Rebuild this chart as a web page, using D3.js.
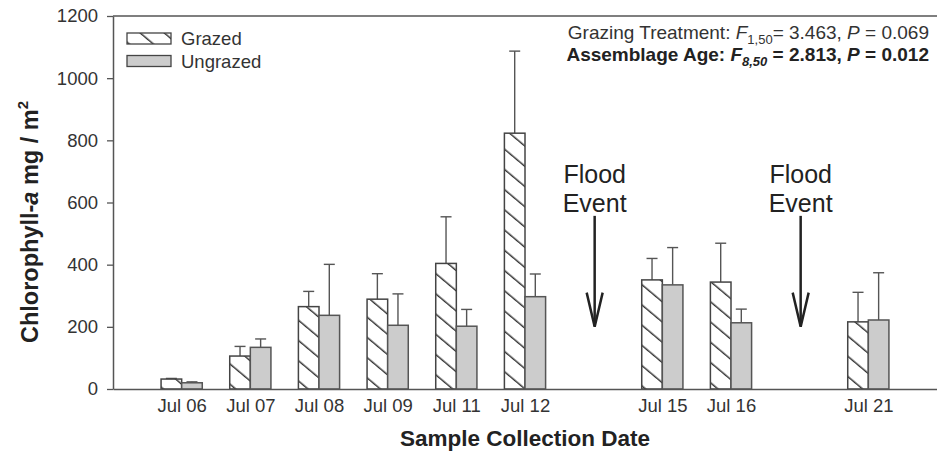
<!DOCTYPE html>
<html lang="en">
  <head>
    <meta charset="UTF-8" />
    <title>Chlorophyll-a by sample date</title>
    <script src="https://d3js.org/d3.v7.min.js"></script>
    <style>
      body { margin: 0; background: #fff; }
      svg { display: block; font-family: 'Liberation Sans', Arial, sans-serif; }
    </style>
  </head>
  <body>
    <svg width="937" height="454"></svg>

    <script>
      // Sample dates and their slot on the x axis (gaps = flood events)
      const dates = ['Jul 06', 'Jul 07', 'Jul 08', 'Jul 09', 'Jul 11', 'Jul 12', 'Jul 15', 'Jul 16', 'Jul 21'];
      const slots = [0, 1, 2, 3, 4, 5, 7, 8, 10];

      // Means and upper error (SE)
      const grazed = [32, 106, 265, 289, 404, 823, 351, 344, 216];
      const grazedErr = [2, 31, 49, 82, 150, 264, 69, 125, 95];
      const ungrazed = [20, 134, 237, 205, 202, 297, 335, 213, 222];
      const ungrazedErr = [3, 27, 164, 101, 54, 73, 120, 44, 152];

      const yTicks = [0, 200, 400, 600, 800, 1000, 1200];
      const floodSlots = [6, 9];

      const svg = d3.select('svg');
      const plotL = 113, plotR = 937, plotT = 16, plotB = 389;

      const x = d3.scaleLinear().domain([-1, 11]).range([plotL, plotR]);
      const y = d3.scaleLinear().domain([0, 1200]).range([plotB, plotT]);
      const half = x(0.3) - x(0); // width of one bar

      // hatch pattern for grazed bars
      const defs = svg.append('defs');
      defs
        .append('pattern')
        .attr('id', 'hatch')
        .attr('patternUnits', 'userSpaceOnUse')
        .attr('width', 40)
        .attr('height', 15.5)
        .attr('patternTransform', 'rotate(40)')
        .append('line')
        .attr('x1', 0)
        .attr('x2', 40)
        .attr('y1', 7)
        .attr('y2', 7)
        .attr('stroke', '#333')
        .attr('stroke-width', 1.3);

      const rows = dates.map((d, i) => ({
        date: d,
        slot: slots[i],
        g: grazed[i],
        ge: grazedErr[i],
        u: ungrazed[i],
        ue: ungrazedErr[i],
      }));

      // frame line on top
      svg
        .append('line')
        .attr('x1', plotL)
        .attr('x2', plotR)
        .attr('y1', plotT)
        .attr('y2', plotT)
        .attr('stroke', '#555')
        .attr('stroke-width', 1.5);

      // error bars (drawn first, bars on top)
      const errs = [];
      rows.forEach((r) => {
        errs.push({ cx: x(r.slot) - half / 2, v: r.g, e: r.ge });
        errs.push({ cx: x(r.slot) + half / 2, v: r.u, e: r.ue });
      });
      const eg = svg.append('g').attr('stroke', '#555').attr('stroke-width', 1.4);
      eg.selectAll('.ev')
        .data(errs)
        .enter()
        .append('line')
        .attr('x1', (d) => d.cx)
        .attr('x2', (d) => d.cx)
        .attr('y1', (d) => y(d.v))
        .attr('y2', (d) => y(d.v + d.e));
      eg.selectAll('.ec')
        .data(errs)
        .enter()
        .append('line')
        .attr('x1', (d) => d.cx - 5.5)
        .attr('x2', (d) => d.cx + 5.5)
        .attr('y1', (d) => y(d.v + d.e))
        .attr('y2', (d) => y(d.v + d.e));

      // bars
      svg
        .selectAll('.bar-g')
        .data(rows)
        .enter()
        .append('rect')
        .attr('x', (d) => x(d.slot) - half)
        .attr('width', half)
        .attr('y', (d) => y(d.g))
        .attr('height', (d) => y(0) - y(d.g))
        .attr('fill', 'url(#hatch)')
        .attr('stroke', '#444')
        .attr('stroke-width', 1.5);

      svg
        .selectAll('.bar-u')
        .data(rows)
        .enter()
        .append('rect')
        .attr('x', (d) => x(d.slot))
        .attr('width', half)
        .attr('y', (d) => y(d.u))
        .attr('height', (d) => y(0) - y(d.u))
        .attr('fill', '#cccccc')
        .attr('stroke', '#555')
        .attr('stroke-width', 1.5);

      // y axis
      const yAxis = svg
        .append('g')
        .attr('transform', `translate(${plotL},0)`)
        .call(
          d3
            .axisLeft(y)
            .tickValues(yTicks)
            .tickFormat(d3.format('d'))
            .tickSize(6)
            .tickPadding(9)
            .tickSizeOuter(0),
        );
      yAxis.select('.domain').attr('stroke', '#555').attr('stroke-width', 1.5);
      yAxis.selectAll('.tick line').attr('stroke', '#555').attr('stroke-width', 1.3);
      yAxis
        .selectAll('.tick text')
        .attr('font-size', 18.5)
        .attr('font-family', 'Liberation Sans, Arial, sans-serif')
        .attr('fill', '#333');

      // x axis: no ticks, just labels
      const xAxis = svg
        .append('g')
        .attr('transform', `translate(0,${plotB})`)
        .call(
          d3
            .axisBottom(x)
            .tickValues(slots)
            .tickFormat((d, i) => dates[i])
            .tickSize(0)
            .tickPadding(10)
            .tickSizeOuter(0),
        );
      xAxis.select('.domain').attr('stroke', '#555').attr('stroke-width', 1.5);
      xAxis
        .selectAll('.tick text')
        .attr('font-size', 18.5)
        .attr('font-family', 'Liberation Sans, Arial, sans-serif')
        .attr('fill', '#333');

      // axis titles
      svg
        .append('text')
        .attr('x', (plotL + plotR) / 2)
        .attr('y', 446)
        .attr('text-anchor', 'middle')
        .attr('font-size', 22.5)
        .attr('font-weight', 'bold')
        .attr('fill', '#222')
        .text('Sample Collection Date');

      const yt = svg
        .append('text')
        .attr('transform', 'translate(38,222) rotate(-90)')
        .attr('text-anchor', 'middle')
        .attr('font-size', 23.5)
        .attr('font-weight', 'bold')
        .attr('fill', '#222');
      yt.append('tspan').text('Chlorophyll-');
      yt.append('tspan').attr('font-style', 'italic').text('a');
      yt.append('tspan').text(' mg / m');
      yt.append('tspan').attr('font-size', 15).attr('dy', -10).text('2');

      // legend
      const legend = [
        { label: 'Grazed', fill: 'url(#hatch)' },
        { label: 'Ungrazed', fill: '#cccccc' },
      ];
      const lg = svg
        .selectAll('.legend')
        .data(legend)
        .enter()
        .append('g')
        .attr('transform', (d, i) => `translate(127,${33 + i * 22.5})`);
      lg.append('rect')
        .attr('width', 44)
        .attr('height', 11)
        .attr('fill', (d) => d.fill)
        .attr('stroke', '#444')
        .attr('stroke-width', 1.3);
      lg.append('text')
        .attr('x', 54)
        .attr('y', 12)
        .attr('font-size', 18.5)
        .attr('fill', '#333')
        .text((d) => d.label);

      // statistics text, top right
      const s1 = svg
        .append('text')
        .attr('x', 929)
        .attr('y', 39)
        .attr('text-anchor', 'end')
        .attr('font-size', 19)
        .attr('fill', '#333');
      s1.append('tspan').text('Grazing Treatment: ');
      s1.append('tspan').attr('font-style', 'italic').text('F');
      s1.append('tspan').attr('font-size', 13).attr('dy', 5).text('1,50');
      s1.append('tspan').attr('dy', -5).text('= 3.463, ');
      s1.append('tspan').attr('font-style', 'italic').text('P');
      s1.append('tspan').text(' = 0.069');

      const s2 = svg
        .append('text')
        .attr('x', 929)
        .attr('y', 61)
        .attr('text-anchor', 'end')
        .attr('font-size', 19)
        .attr('font-weight', 'bold')
        .attr('fill', '#222');
      s2.append('tspan').text('Assemblage Age:  ');
      s2.append('tspan').attr('font-style', 'italic').text('F');
      s2.append('tspan').attr('font-size', 13).attr('font-style', 'italic').attr('dy', 5).text('8,50');
      s2.append('tspan').attr('dy', -5).text(' = 2.813, ');
      s2.append('tspan').attr('font-style', 'italic').text('P');
      s2.append('tspan').text(' = 0.012');

      // flood event arrows
      const fl = svg
        .selectAll('.flood')
        .data(floodSlots)
        .enter()
        .append('g')
        .attr('transform', (d) => `translate(${x(d) + 1},0)`);
      fl.append('text')
        .attr('y', y(663))
        .attr('text-anchor', 'middle')
        .attr('font-size', 25)
        .attr('fill', '#222')
        .text('Flood');
      fl.append('text')
        .attr('y', y(570))
        .attr('text-anchor', 'middle')
        .attr('font-size', 25)
        .attr('fill', '#222')
        .text('Event');
      fl.append('line')
        .attr('y1', y(557))
        .attr('y2', y(202))
        .attr('stroke', '#222')
        .attr('stroke-width', 2.5);
      fl.append('path')
        .attr('d', `M-8,${y(310)} L0,${y(200)} L8,${y(310)}`)
        .attr('fill', 'none')
        .attr('stroke', '#222')
        .attr('stroke-width', 2.5)
        .attr('stroke-linejoin', 'miter');
    </script>
  </body>
</html>
